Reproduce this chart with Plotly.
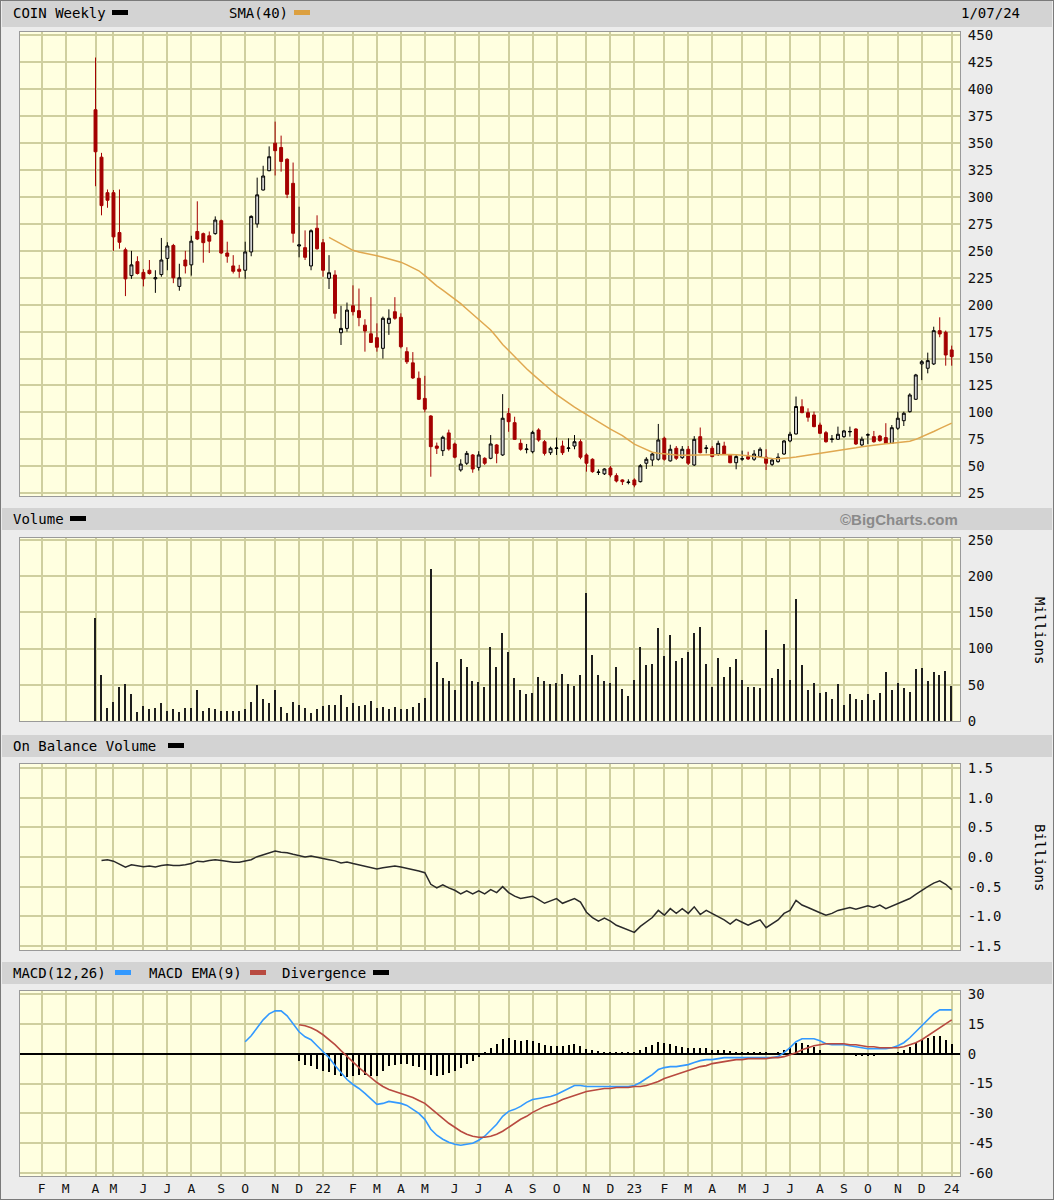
import plotly.graph_objects as go
import pandas as pd

# ---------------- data ----------------
first_week = "2021-04-11"          # weekly bars (week starting Sunday)

opens = [381, 337, 304, 304, 267, 251, 227, 240, 230, 232, 224, 228, 243, 255, 217, 241.5, 237, 268, 266, 264,
         266, 278, 248, 236, 233, 232, 249, 275, 306.5, 324.4, 350, 346, 335, 312.7, 254.5, 253, 236, 271, 257.6, 224.5,
         227.6, 174, 178, 199, 194.5, 181, 173, 169.4, 159.5, 182.7, 193.5, 188.3, 156.4, 146, 131.7, 113, 96.7, 68.8, 64.5, 81,
         70.7, 46.6, 52.8, 60.5, 49, 57.4, 57.4, 69.8, 60.5, 99, 90.5, 71.3, 65.5, 63.5, 83.7, 72.8, 62.6, 66.5, 68.8, 66.5,
         68.8, 72.8, 60.5, 56.5, 44.2, 43, 48.4, 41.3, 37.3, 34.9, 37.3, 35.7, 52.8, 55.8, 56.5, 76, 55, 66.7, 58, 65.8,
         51.2, 77.5, 66.5, 66.7, 61.4, 68.8, 60.5, 53.3, 56.6, 59, 56.5, 59, 58.4, 51.8, 54.3, 61.4, 73.5, 80, 105.3, 99.8,
         97.6, 88.3, 81.2, 74.9, 75.1, 77.5, 81.9, 84.6, 69.8, 78.9, 77.5, 78.1, 76.6, 71.3, 85.3, 92.3, 100.7, 112.2, 145, 141,
         145, 175.9, 174.4, 158]
highs = [429.5, 341, 307, 306.5, 307, 253, 250, 245, 233, 241.5, 232, 262, 258, 256.5, 238, 250, 264, 296, 267, 268,
         282, 279, 258.5, 246, 237, 258.5, 283, 318, 329, 347, 370, 357, 336, 332, 291, 269, 270, 283, 261, 246,
         232, 199, 202, 218, 215, 186.5, 207, 182.7, 189, 195.7, 207, 192, 160.5, 156, 138, 134, 97.5, 72, 78.4, 84,
         72, 56.5, 64.2, 61.4, 64, 58.4, 79, 70.7, 117, 104, 96, 75, 70.7, 83, 85.3, 74.4, 68.2, 76.6, 73.8, 76,
         79, 75, 62, 57.4, 47.2, 48.2, 50.3, 43.5, 37.9, 37.9, 38.8, 52, 58.4, 62.6, 89.3, 77.5, 70, 68.8, 68.8, 68.8,
         78, 86, 69.8, 68.8, 73.8, 72.8, 61.4, 60.5, 64.5, 63.5, 65, 67.6, 65.8, 56.8, 62.1, 74.4, 82, 114.7, 112.2, 103.8,
         100.7, 90.5, 82.8, 79, 86.8, 83.7, 86.8, 85.3, 77.5, 80.6, 82.8, 79.1, 90, 88.3, 100.7, 100.7, 117.8, 135.8, 148.7, 155.5,
         179.6, 188.3, 176, 162]
lows = [310, 283, 290, 250, 252, 208, 224, 228, 217, 228, 211, 226, 232, 220, 213, 229, 227, 260, 239, 248,
        265, 247, 239, 229, 225, 224, 245, 271.5, 306, 324, 320, 323.5, 299, 257.6, 244, 241.5, 232, 251, 226, 214.6,
        187, 162.6, 175, 190, 180, 156.4, 164.7, 156.4, 150, 172, 186, 159.5, 145, 131, 111.5, 100, 40.3, 61.4, 59.6, 64.5,
        57.4, 45, 51.2, 44, 46, 51.2, 56.5, 52.8, 59.6, 82, 74.4, 64.5, 62, 62, 72.8, 60, 60.5, 60.5, 60.5, 63.5,
        65.8, 56.5, 45, 44, 41.9, 41.9, 39.8, 35, 32.6, 33.2, 30.5, 35, 47.5, 50.3, 55.2, 55.2, 54.3, 55.8, 56.8, 51.2,
        50.3, 62, 62, 58.4, 59.6, 60.5, 52.8, 47.2, 55, 55.8, 55, 58.4, 46.6, 50.3, 53.3, 60.5, 72.3, 79.5, 99.2, 91.4,
        86.2, 80, 71.9, 72, 74.4, 76.6, 77.5, 69.8, 68.8, 70.7, 71.9, 72.8, 70.7, 70.7, 83.7, 87.4, 99.8, 111.5, 130, 136.3,
        144, 169.8, 143.4, 143.4]
closes = [342, 292, 297, 263, 258, 224, 237, 229, 224, 229, 225, 241.5, 254.5, 225, 225, 236, 259, 261, 257.6, 259,
          278.6, 248, 245, 231, 231, 249, 282, 302, 319.5, 337.4, 343, 333, 302.5, 266.3, 255.5, 244, 268.7, 252, 232, 229.7,
          192, 178, 195, 193.5, 188, 175.6, 165, 160.5, 187.4, 187.4, 187.4, 161, 147, 132, 112.2, 103, 68.2, 66.7, 76.9, 66,
          58.4, 52, 62, 47.5, 60.5, 52.8, 70.7, 62, 94.6, 91.4, 75, 65.8, 66, 81.5, 74.4, 62, 66.7, 67, 62.6, 67,
          72.8, 58.4, 52.8, 45, 44.6, 47.5, 41.9, 36.3, 35.7, 35.3, 32.6, 50.5, 56.5, 61.4, 74.4, 56.5, 65.8, 57.4, 65.8, 52.8,
          75, 62.6, 67, 59, 71.3, 61.4, 53.3, 59, 57, 56.8, 61.4, 65.8, 52.8, 55.8, 58.4, 73.5, 79.7, 105.5, 99.8, 95.5,
          86.8, 80.6, 72.8, 75.3, 79.7, 82.8, 82.3, 70.7, 75.1, 79.3, 72.8, 73.8, 71.3, 85.8, 94.6, 99.2, 116.2, 134.8, 147.1, 148.1,
          175.9, 172.8, 153.3, 151.8]
volume_m = [142.6, 63.5, 18.5, 26.9, 47.2, 50.9, 37, 12.5, 20.8, 16.2, 18.5, 24.5, 13.9, 16.2, 12.5, 18.5, 18.5, 42.6, 13.9, 18.5,
            16.2, 13.9, 13.9, 13.9, 13.9, 16.2, 26.4, 49.5, 30.1, 24.5, 42.6, 19.9, 11.6, 26.4, 22.2, 18.5, 11.6, 16.2, 20.8, 22.2,
            22.2, 36.1, 19.9, 24.5, 20.8, 22.2, 27.8, 18.5, 19.9, 16.2, 19.9, 16.2, 16.2, 19.9, 24.5, 32.4, 209.3, 81, 58.8, 54.6,
            42.6, 85.7, 75, 54.6, 53.2, 47.2, 101.9, 75, 121.8, 94.9, 58.8, 42.6, 37, 38.4, 61.1, 54.6, 50.9, 52.8, 64.8, 50.9,
            48.6, 63, 177.3, 91.7, 63, 54.6, 52.8, 75, 44.4, 34.7, 56.9, 101.9, 76.9, 78.7, 128.2, 89.4, 118.1, 83.3, 87, 95.4,
            121.8, 129.6, 78.7, 47.2, 87, 61.1, 75, 85.2, 56.9, 47.2, 47.2, 44.9, 125.9, 59.3, 71.3, 105.6, 56.9, 169, 77.4, 42.6,
            52.8, 38.4, 40.7, 31, 50.9, 22.2, 37, 30.1, 28.7, 37, 28.7, 38.4, 67.1, 42.6, 52.8, 44.9, 40.7, 71.3, 73.2, 54.6,
            67.1, 63, 68.5, 48.6]

sma40_start = 39
sma40 = [262.6, 259.5, 256.5, 253, 250.5, 249, 248, 246.5, 245.5, 244,
         242.5, 241, 239.5, 237, 234.5, 231.5, 227, 222, 217.5, 213.5,
         209.5, 205.5, 201, 196, 191, 186.5, 181.5, 176.5, 170, 163,
         157.5, 151.5, 146, 140.5, 135.5, 130.5, 125.5, 121, 116.5, 112.5,
         108.5, 105, 101.5, 98, 94.5, 91.5, 88, 84.5, 81.5, 78.5,
         74.5, 70.5, 68, 65.5, 63, 62, 61.3, 60.8, 60.5, 60.3,
         60.4, 60.6, 60.9, 61.1, 61.3, 61.4, 61.2, 61, 60.7, 60.4,
         59.8, 59, 58.2, 57.6, 57.2, 57, 57.3, 57.9, 58.6, 59.4,
         60.2, 61, 62, 63, 64, 64.8, 65.5, 66.3, 67.2, 68.2,
         69, 69.6, 70.2, 70.8, 71.3, 71.8, 72.4, 73.2, 75, 77.3,
         79.8, 82.3, 85, 87.5, 90]

obv_start = 1
obv_b = [-0.06, -0.045, -0.07, -0.12, -0.17, -0.13, -0.145, -0.165, -0.15, -0.17,
         -0.145, -0.13, -0.145, -0.145, -0.13, -0.11, -0.07, -0.08, -0.06, -0.045,
         -0.06, -0.075, -0.09, -0.09, -0.07, -0.045, 0.005, 0.035, 0.06, 0.1,
         0.08, 0.07, 0.045, 0.02, 0.0, 0.015, 0.0, -0.025, -0.045, -0.065,
         -0.1, -0.085, -0.11, -0.13, -0.15, -0.18, -0.2, -0.18, -0.16, -0.15,
         -0.17, -0.19, -0.21, -0.235, -0.265, -0.46, -0.52, -0.47, -0.52, -0.56,
         -0.62, -0.57, -0.62, -0.57, -0.62, -0.55, -0.6, -0.5, -0.6, -0.66,
         -0.7, -0.68, -0.66, -0.72, -0.78, -0.74, -0.7, -0.78, -0.74, -0.7,
         -0.76, -0.93, -1.02, -1.08, -1.03, -1.08, -1.15, -1.19, -1.22, -1.27,
         -1.17, -1.1, -1.02, -0.9, -0.98, -0.87, -0.95, -0.87, -0.95, -0.84,
         -0.97, -0.9, -0.95, -1.0, -1.06, -1.13, -1.05, -1.1, -1.15, -1.1,
         -1.06, -1.19, -1.13, -1.06, -0.95, -0.9, -0.73, -0.81, -0.85, -0.9,
         -0.94, -0.98, -0.95, -0.9, -0.88, -0.85, -0.88, -0.85, -0.82, -0.85,
         -0.81, -0.87, -0.83, -0.78, -0.74, -0.7, -0.63, -0.56, -0.5, -0.44,
         -0.4, -0.46, -0.55]

macd_start = 25
macd = [6, 9, 13, 17, 20, 21.5, 21.5, 19, 15, 11,
        8.5, 7, 4, 1, -2, -6, -9.5, -13, -15.5, -17.5,
        -20, -23, -25.5, -25, -24, -24.5, -25, -26, -28, -30,
        -33, -38, -41, -43, -44.5, -45.5, -46, -45.5, -45, -43.5,
        -41.5, -38.5, -35.5, -31.5, -29, -28, -26.5, -24.5, -23, -22.5,
        -22, -21.5, -20.5, -19, -17.5, -16, -16, -16.5, -16.5, -16.5,
        -16.5, -16.5, -16.5, -16.5, -16.5, -16, -14.5, -12.5, -10.5, -8,
        -7, -6.5, -6.5, -6, -5.5, -4.5, -3.5, -3, -3, -2.5,
        -2, -2, -2, -2, -2, -2, -2, -2, -2, -1.5,
        0.5, 3, 6, 7.5, 7.5, 7.5, 6.5, 5, 4.5, 4.5,
        4.5, 4, 3.5, 3, 2.5, 2.5, 2.5, 2.5, 3, 4,
        5.5, 8, 11, 14, 17, 20, 22, 22, 22]

signal_start = 34
macd_signal = [14.5, 14, 13, 11.5, 9.5, 7, 4.5, 1.5, -1.5, -4.5,
               -7, -9.5, -12, -14.5, -16.5, -18, -19, -20, -21, -22,
               -23.5, -25, -27.5, -30, -32.5, -35, -37, -39, -40.5, -41.5,
               -42, -42, -41.5, -40.5, -39, -37, -35, -33, -31.5, -29.5,
               -28, -26.5, -25.5, -24.5, -23, -22, -21, -20, -19, -18.5,
               -18, -17.5, -17.5, -17, -17, -17, -16.5, -16.5, -16, -15,
               -14, -12.5, -11.5, -10.5, -9.5, -8.5, -7.5, -6.5, -6, -5,
               -4.5, -4, -3.5, -3, -3, -2.5, -2.5, -2.5, -2.5, -2,
               -2, -1.5, -0.5, 0.5, 2, 3, 4, 4.5, 5, 5,
               5, 5, 4.5, 4.5, 4, 3.5, 3.5, 3, 3, 3,
               3, 3.5, 4.5, 5.5, 7, 9, 11, 13, 15, 17]

divergence_start = 34
divergence = [-3.5, -5.5, -6, -7.5, -8.5, -9, -10.5, -11, -11.5, -11,
              -10.5, -10.5, -11, -11, -8.5, -6, -5.5, -5, -5, -6,
              -6.5, -8, -10.5, -11, -10.5, -9.5, -8.5, -7, -5, -3.5,
              -1.5, 0.5, 3, 5, 7.5, 8, 7, 6.5, 7, 6.5,
              5.5, 4.5, 4, 4, 4, 4.5, 5, 4, 2.5, 2,
              1.5, 1, 1, 0.5, 0.5, 0.5, 0.5, 2, 3.5, 4.5,
              6, 5.5, 5, 4, 3.5, 3, 3, 3, 3, 2,
              2, 2, 1.5, 1, 1, 0.5, 0.5, 0.5, 0.5, 0,
              0.5, 2, 3.5, 5.5, 5.5, 4.5, 3.5, 2, 0, -0.5,
              -0.5, -0.5, -0.5, -1, -1, -1, -1, -0.5, -0.5, 0,
              1, 2, 3.5, 5.5, 7, 8, 9, 9, 7, 5]

month_letters = ["J", "F", "M", "A", "M", "J", "J", "A", "S", "O", "N", "D"]
price_ticks = list(range(25, 451, 25))
volume_ticks = [0, 50, 100, 150, 200, 250]
obv_ticks = [-1.5, -1.0, -0.5, 0.0, 0.5, 1.0, 1.5]
obv_ticktext = ["-1.5", "-1.0", "-0.5", "0.0", "0.5", "1.0", "1.5"]
macd_ticks = [-60, -45, -30, -15, 0, 15, 30]

# ---------------- geometry helpers ----------------
W, H = 1054, 1200
def fx(x):
    return x / W
def fy(y):
    return 1 - y / H

PL, PR = 20, 960
panels = {"price": (32, 496), "vol": (538, 721), "obv": (764, 950), "macd": (991, 1176)}

dates = pd.date_range(first_week, periods=len(closes), freq="7D")
def seg(start, vals):
    return dates[start:start + len(vals)]

# month gridlines: first weekly bar (Sunday) on/after the 1st of each month
tick_vals, tick_text = [], []
for m in pd.date_range("2021-02-01", "2024-01-01", freq="MS"):
    t = m + pd.Timedelta(days=(6 - m.weekday()) % 7)
    if t < dates[0] and (m.year, m.month) == (dates[0].year, dates[0].month):
        t = dates[0]
    tick_vals.append(t)
    tick_text.append(str(m.year)[2:] if m.month == 1 else month_letters[m.month - 1])

x_range = [pd.Timestamp("2021-01-12 17:00"), pd.Timestamp("2024-01-16 17:00")]

MONO = "DejaVu Sans Mono"
GRID = "#cfcf9f"
PLOTBG = "#ffffe0"
DAY_MS = 86400000

fig = go.Figure()

fig.add_trace(go.Candlestick(
    x=dates, open=opens, high=highs, low=lows, close=closes,
    increasing=dict(line=dict(color="#000000", width=1), fillcolor="#d2d2d2"),
    decreasing=dict(line=dict(color="#a40000", width=1), fillcolor="#a40000"),
    whiskerwidth=0, xaxis="x", yaxis="y", showlegend=False, hoverinfo="skip"))
fig.add_trace(go.Scatter(x=seg(sma40_start, sma40), y=sma40, mode="lines",
                         line=dict(color="#e0a850", width=1.5), xaxis="x", yaxis="y",
                         showlegend=False, hoverinfo="skip"))

fig.add_trace(go.Bar(x=dates, y=volume_m, width=1.7 * DAY_MS, marker=dict(color="#1e1e1e", line_width=0),
                     xaxis="x2", yaxis="y2", showlegend=False, hoverinfo="skip"))

fig.add_trace(go.Scatter(x=seg(obv_start, obv_b), y=obv_b, mode="lines",
                         line=dict(color="#2a2a2a", width=1.5), xaxis="x3", yaxis="y3",
                         showlegend=False, hoverinfo="skip"))

fig.add_trace(go.Bar(x=seg(divergence_start, divergence), y=divergence, width=1.2 * DAY_MS,
                     marker=dict(color="#000000", line_width=0), xaxis="x4", yaxis="y4",
                     showlegend=False, hoverinfo="skip"))
fig.add_trace(go.Scatter(x=seg(macd_start, macd), y=macd, mode="lines",
                         line=dict(color="#3399ff", width=1.6), xaxis="x4", yaxis="y4",
                         showlegend=False, hoverinfo="skip"))
fig.add_trace(go.Scatter(x=seg(signal_start, macd_signal), y=macd_signal, mode="lines",
                         line=dict(color="#b84a40", width=1.6), xaxis="x4", yaxis="y4",
                         showlegend=False, hoverinfo="skip"))

def xaxis_cfg(show_labels):
    return dict(domain=[fx(PL), fx(PR)], type="date", range=x_range, automargin=False,
                tickmode="array", tickvals=tick_vals, ticktext=tick_text,
                showticklabels=show_labels, ticks="", showgrid=True, gridcolor=GRID, gridwidth=2,
                showline=True, linecolor="#9a9a9a", linewidth=1, mirror=True,
                tickfont=dict(family=MONO, size=13, color="#111"), zeroline=False,
                rangeslider=dict(visible=False), fixedrange=True)

def yaxis_cfg(panel, rng, tv, tt, anchor):
    top, bot = panels[panel]
    return dict(domain=[fy(bot), fy(top)], range=rng, side="right", anchor=anchor, automargin=False,
                tickmode="array", tickvals=tv, ticktext=tt, ticks="", ticklabelstandoff=4,
                showgrid=True, gridcolor=GRID, gridwidth=2, zeroline=False,
                showline=True, linecolor="#9a9a9a", linewidth=1, mirror=True,
                tickfont=dict(family=MONO, size=14, color="#111"), fixedrange=True)

layout = dict(
    width=W, height=H, margin=dict(l=0, r=0, t=0, b=0, pad=0, autoexpand=False),
    paper_bgcolor="#ececec", plot_bgcolor=PLOTBG, bargap=0, showlegend=False,
    xaxis=xaxis_cfg(False),
    xaxis2=dict(xaxis_cfg(False), matches="x", anchor="y2"),
    xaxis3=dict(xaxis_cfg(False), matches="x", anchor="y3"),
    xaxis4=dict(xaxis_cfg(True), matches="x", anchor="y4"),
    yaxis=yaxis_cfg("price", [22.4, 453.2], price_ticks, [str(v) for v in price_ticks], "x"),
    yaxis2=yaxis_cfg("vol", [0, 252.5], volume_ticks, [str(v) for v in volume_ticks], "x2"),
    yaxis3=yaxis_cfg("obv", [-1.567, 1.567], obv_ticks, obv_ticktext, "x3"),
    yaxis4=yaxis_cfg("macd", [-61.5, 31.5], macd_ticks, [str(v) for v in macd_ticks], "x4"),
)
layout["xaxis"]["anchor"] = "y"
layout["yaxis4"].update(zeroline=True, zerolinecolor="#000000", zerolinewidth=1.5)
fig.update_layout(**layout)

shapes = []
annotations = []
def band(y0, y1):
    shapes.append(dict(type="rect", xref="paper", yref="paper", x0=fx(2), x1=fx(1052), y0=fy(y1), y1=fy(y0),
                       fillcolor="#d3d3d3", line=dict(width=0), layer="below"))
def swatch(x0, y0, color, w=16, h=5):
    shapes.append(dict(type="rect", xref="paper", yref="paper", x0=fx(x0), x1=fx(x0 + w), y0=fy(y0 + h), y1=fy(y0),
                       fillcolor=color, line=dict(width=0)))
def text(s, x, y, anchor="left", size=14, color="#000", family=MONO, angle=0):
    annotations.append(dict(text=s, xref="paper", yref="paper", x=fx(x), y=fy(y), xanchor=anchor, yanchor="middle",
                            showarrow=False, textangle=angle, font=dict(family=family, size=size, color=color)))

band(1, 27); band(508, 530); band(735, 757); band(962, 984)
text("COIN Weekly", 11, 13); swatch(112, 10, "#000000")
text("SMA(40)", 227, 13); swatch(294, 10, "#dca040")
text("1/07/24", 1022, 13, anchor="right")
text("Volume", 11, 519); swatch(70, 516, "#000000")
text("<b>©BigCharts.com</b>", 960, 519, anchor="right", size=15, color="#8a8a8a", family="Liberation Sans")
text("On Balance Volume", 11, 746); swatch(168, 743, "#000000")
text("MACD(12,26)", 11, 973); swatch(115, 970, "#3399ff")
text("MACD EMA(9)", 147, 973); swatch(250, 970, "#b84a40")
text("Divergence", 280, 973); swatch(373, 970, "#000000")
text("Millions", 1040, 630, anchor="center", angle=90)
text("Billions", 1040, 857, anchor="center", angle=90)

shapes.append(dict(type="rect", xref="paper", yref="paper", x0=0, x1=1, y0=0, y1=1,
                   line=dict(color="#7a7a7a", width=2), fillcolor="rgba(0,0,0,0)"))

fig.update_layout(shapes=shapes, annotations=annotations)
fig.write_html("out.html", config={"displayModeBar": False},
               post_script="document.body.style.margin='0';document.body.style.padding='0';")
